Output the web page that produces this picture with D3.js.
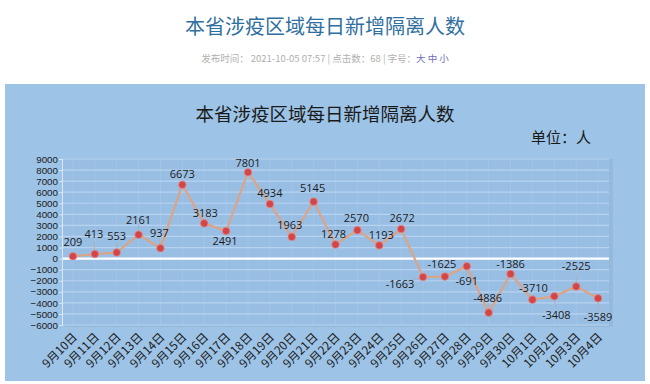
<!DOCTYPE html>
<html><head><meta charset="utf-8">
<script src="https://cdn.jsdelivr.net/npm/d3@7/dist/d3.min.js"></script>
<style>
html,body{margin:0;padding:0;background:#fff;}
svg{display:block;}
</style></head>
<body>
<svg id="c" width="650" height="384"></svg>
<script>
const categories = ["9月10日","9月11日","9月12日","9月13日","9月14日","9月15日","9月16日","9月17日","9月18日","9月19日","9月20日","9月21日","9月22日","9月23日","9月24日","9月25日","9月26日","9月27日","9月28日","9月29日","9月30日","10月1日","10月2日","10月3日","10月4日"];
const values = [209,413,553,2161,937,6673,3183,2491,7801,4934,1963,5145,1278,2570,1193,2672,-1663,-1625,-691,-4886,-1386,-3710,-3408,-2525,-3589];
const yTicks = [9000,8000,7000,6000,5000,4000,3000,2000,1000,0,-1000,-2000,-3000,-4000,-5000,-6000];
const pageTitle = "本省涉疫区域每日新增隔离人数";
const chartTitle = "本省涉疫区域每日新增隔离人数";
const unitLabel = "单位：人";
// label placement (dx, dy from point, px)
const labelOffsets = [[0,-14],[-1,-20],[0,-16],[0,-15],[-1,-15],[0,-11],[1,-10],[-1,10],[0,-9],[0,-11],[-2,-12],[-1,-14],[-2,-10],[-1,-12],[2,-10],[1,-11],[-23,7],[-3,-12],[0,15],[-1,-15],[0,-10],[1,-12],[2,19],[0,-20],[0,19]];

const svg = d3.select("#c");
const font = "'Noto Sans CJK SC','Noto Sans',sans-serif";
const numFont = "'Open Sans','Liberation Sans',sans-serif";
const tickFont = "'Liberation Sans',Arial,sans-serif";

// page header
svg.append("text").attr("x",325).attr("y",34).attr("text-anchor","middle")
  .attr("font-family",font).attr("font-size",20).attr("fill","#2f6f9f").text(pageTitle);
const meta = svg.append("text").attr("x",325).attr("y",62).attr("text-anchor","middle")
  .attr("font-family",font).attr("font-size",9.5).attr("fill","#b0b0b0");
meta.append("tspan").text("发布时间：  2021-10-05 07:57  |  点击数：68  |  字号：");
meta.append("tspan").attr("fill","#6d6db8").text("大 中 小");

// panel
svg.append("rect").attr("x",5).attr("y",84).attr("width",640).attr("height",297).attr("fill","#9dc3e6");

const m = {l:62, r:609, t:159, b:325};
const x = d3.scaleBand().domain(categories).range([m.l,m.r]);
const y = d3.scaleLinear().domain([-6000,9000]).range([m.b,m.t]);
const cx = (i)=>x(categories[i])+x.bandwidth()/2;

// plot area
svg.append("rect").attr("x",m.l+1).attr("y",m.t-1).attr("width",m.r-m.l+2).attr("height",m.b-m.t+2)
  .attr("fill","#8fb2d6").attr("opacity",0.6).attr("transform","translate(1,1)");
svg.append("rect").attr("x",m.l).attr("y",m.t-1).attr("width",m.r-m.l).attr("height",m.b-m.t+1)
  .attr("fill","#99bee4");

// grid
svg.append("g").selectAll("line").data(yTicks.filter(d=>d!==0)).join("line")
  .attr("x1",m.l).attr("x2",m.r).attr("y1",d=>y(d)).attr("y2",d=>y(d))
  .attr("stroke","#b7d3f0").attr("stroke-width",1.2);
svg.append("g").selectAll("line").data(categories).join("line")
  .attr("x1",d=>x(d)+x.bandwidth()/2).attr("x2",d=>x(d)+x.bandwidth()/2)
  .attr("y1",m.t).attr("y2",m.b).attr("stroke","#b7d3f0").attr("stroke-width",0.6).attr("opacity",0.5);
svg.append("line").attr("x1",m.l).attr("x2",m.r).attr("y1",y(0)).attr("y2",y(0))
  .attr("stroke","#ffffff").attr("stroke-width",2.2);

// y axis
const yAxis = svg.append("g").attr("transform",`translate(${m.l},0)`)
  .call(d3.axisLeft(y).tickValues(yTicks).tickSize(3).tickFormat(d3.format("d")));
yAxis.select(".domain").attr("stroke","#d8e8f7");
yAxis.selectAll(".tick line").attr("stroke","#d8e8f7");
yAxis.selectAll("text").attr("font-family",tickFont).attr("font-size",9.8).attr("fill","#1c1c1c").attr("x",-4);

// x axis labels
const xAxis = svg.append("g").attr("transform",`translate(0,${m.b})`)
  .call(d3.axisBottom(x).tickSize(0).tickSizeOuter(0));
xAxis.select(".domain").remove();
xAxis.selectAll("text").attr("font-family",font).attr("font-size",11.8).attr("fill","#1c1c1c")
  .attr("text-anchor","end").attr("dy",0).attr("y",0)
  .attr("transform","translate(5,13) rotate(-45)");

// titles
svg.append("text").attr("x",325).attr("y",121).attr("text-anchor","middle")
  .attr("font-family",font).attr("font-size",18.5).attr("fill","#1a1a1a").text(chartTitle);
svg.append("text").attr("x",591).attr("y",143).attr("text-anchor","end")
  .attr("font-family",font).attr("font-size",15).attr("fill","#1a1a1a").text(unitLabel);

// line
const line = d3.line().x((d,i)=>cx(i)).y(d=>y(d));
svg.append("path").datum(values).attr("d",line).attr("fill","none")
  .attr("stroke","#dca487").attr("stroke-width",2.2);

// leader lines
const leaders = values.map((v,i)=>({v,i})).filter(o=>Math.abs(labelOffsets[o.i][1])>=15 || Math.abs(labelOffsets[o.i][0])>10);
svg.append("g").selectAll("line").data(leaders).join("line")
  .attr("x1",o=>cx(o.i)).attr("y1",o=>y(o.v))
  .attr("x2",o=>cx(o.i)+labelOffsets[o.i][0]*0.65).attr("y2",o=>y(o.v)+labelOffsets[o.i][1]*0.65)
  .attr("stroke","#a9a9a9").attr("stroke-width",0.8);

// markers
svg.append("g").selectAll("circle").data(values).join("circle")
  .attr("cx",(d,i)=>cx(i)).attr("cy",d=>y(d)).attr("r",3.8)
  .attr("fill","#d2464a").attr("stroke","#e58a86").attr("stroke-width",0.8);

// data labels
svg.append("g").selectAll("text").data(values).join("text")
  .attr("x",(d,i)=>cx(i)+labelOffsets[i][0]).attr("y",(d,i)=>y(d)+labelOffsets[i][1])
  .attr("dy","0.35em").attr("text-anchor","middle")
  .attr("font-family",numFont).attr("font-size",11).attr("fill","#1c1c1c").text(d=>d);
</script>
</body></html>
